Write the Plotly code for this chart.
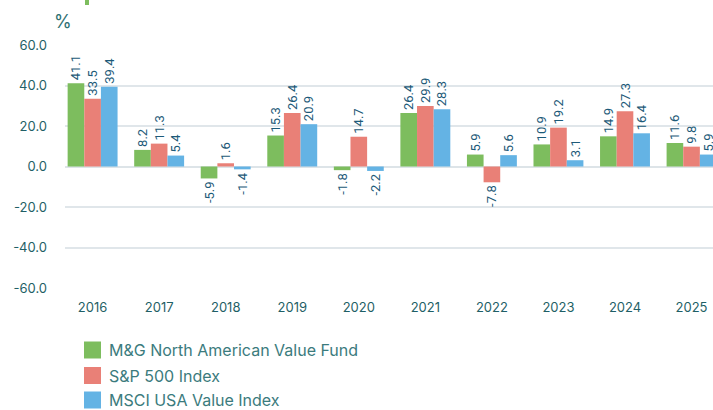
import plotly.graph_objects as go

years = ['2016', '2017', '2018', '2019', '2020', '2021', '2022', '2023', '2024', '2025']
series_names = ['M&G North American Value Fund', 'S&P 500 Index', 'MSCI USA Value Index']
fund = [41.1, 8.2, -5.9, 15.3, -1.8, 26.4, 5.9, 10.9, 14.9, 11.6]
sp500 = [33.5, 11.3, 1.6, 26.4, 14.7, 29.9, -7.8, 19.2, 27.3, 9.8]
msci = [39.4, 5.4, -1.4, 20.9, -2.2, 28.3, 5.6, 3.1, 16.4, 5.9]
y_ticks = [60, 40, 20, 0, -20, -40, -60]
y_tick_labels = ['60.0', '40.0', '20.0', '0.0', '-20.0', '-40.0', '-60.0']

colors = ['#7dbd5e', '#e98077', '#64b3e4']
values = [fund, sp500, msci]

W, H = 713, 410
ML, MR, MT, MB = 65, 0, 45, 122
PW = W - ML - MR
PH = H - MT - MB

fig = go.Figure()
for name, vals, col in zip(series_names, values, colors):
    fig.add_trace(go.Bar(
        x=years, y=vals, name=name, marker=dict(color=col, line=dict(width=0)),
        text=[f'{v:.1f}' for v in vals], textposition='outside', textangle=-90,
        constraintext='none',
        textfont=dict(family='Roboto, sans-serif', size=13, color='#1d5a78'),
        cliponaxis=False, showlegend=False, hoverinfo='skip',
    ))

shapes = []
annotations = []

def px_to_paper_x(px):
    return (px - ML) / PW

def px_to_paper_y(py):
    return (H - MB - py) / PH

# legend (manual)
leg_y = [350, 375.5, 400]
for name, col, cy in zip(series_names, colors, leg_y):
    shapes.append(dict(type='rect', xref='paper', yref='paper',
                       x0=px_to_paper_x(84), x1=px_to_paper_x(101),
                       y0=px_to_paper_y(cy + 8.5), y1=px_to_paper_y(cy - 8.5),
                       fillcolor=col, line=dict(width=0)))
    annotations.append(dict(xref='paper', yref='paper', x=px_to_paper_x(107), y=px_to_paper_y(cy),
                            text=name, showarrow=False, xanchor='left', yanchor='middle',
                            font=dict(family='Inter, sans-serif', size=16, color='#3b7b7d')))

# unit label
annotations.append(dict(xref='paper', yref='paper', x=px_to_paper_x(63), y=px_to_paper_y(21),
                        text='%', showarrow=False, xanchor='center', yanchor='middle',
                        font=dict(family='Inter, sans-serif', size=18, color='#2f7072')))
# small decorative accent at top
shapes.append(dict(type='rect', xref='paper', yref='paper',
                   x0=px_to_paper_x(85), x1=px_to_paper_x(89),
                   y0=px_to_paper_y(5), y1=px_to_paper_y(0),
                   fillcolor='#7dbd5e', line=dict(width=0)))

x_center0 = 92.6
slot = 66.55
fig.update_layout(
    width=W, height=H,
    margin=dict(l=ML, r=MR, t=MT, b=MB, pad=0),
    paper_bgcolor='white', plot_bgcolor='white',
    barmode='group', bargap=0.25, bargroupgap=0,
    font=dict(family='Inter, sans-serif', color='#1f5f66'),
    xaxis=dict(type='category', range=[(ML - x_center0) / slot, (W - MR - x_center0) / slot],
               showgrid=False, zeroline=False, showline=False, ticks='',
               tickfont=dict(family='Inter, sans-serif', size=13, color='#1f5f66'), ticklabelstandoff=10),
    yaxis=dict(range=[-60, 60], tickvals=y_ticks, ticktext=y_tick_labels,
               showgrid=True, gridcolor='#e0e6ea', gridwidth=2,
               zeroline=True, zerolinecolor='#dde4e8', zerolinewidth=2,
               showline=False, ticks='', tickfont=dict(family='Inter, sans-serif', size=13, color='#1f5f66'),
               ticklabelstandoff=17),
    shapes=shapes, annotations=annotations,
)

fig.write_html('out.html', config={'displayModeBar': False},
               post_script="document.body.style.margin='0';document.body.style.overflow='hidden';")
